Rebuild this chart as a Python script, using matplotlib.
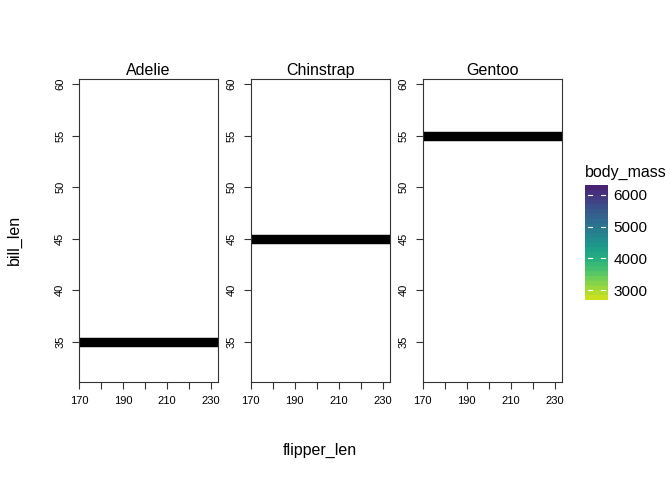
import numpy as np
import matplotlib
matplotlib.use("Agg")
import matplotlib.pyplot as plt
from matplotlib.colors import Normalize, ListedColormap

plt.rcParams['font.family'] = ['Liberation Sans', 'DejaVu Sans']

# data
species = ['Adelie', 'Chinstrap', 'Gentoo']
bill_len = [35, 45, 55]
flipper_range = [170, 233.2]
body_mass_range = [2700, 6300]
x_ticks = [170, 180, 190, 200, 210, 220, 230]
x_labels = ['170', '', '190', '', '210', '', '230']
y_ticks = [35, 40, 45, 50, 55, 60]
cbar_ticks = [3000, 4000, 5000, 6000]

fig = plt.figure(figsize=(6.72, 4.8), dpi=100)

lefts = [79, 250.7, 422.7]
W, H = 672, 480
for i, sp in enumerate(species):
    ax = fig.add_axes([lefts[i] / W, (H - 381.7) / H, 139 / W, (381.7 - 79) / H])
    ax.plot(flipper_range, [bill_len[i], bill_len[i]], color='black', linewidth=6.8,
            solid_capstyle='butt')
    ax.set_xlim(flipper_range)
    ax.set_ylim(31.1, 60.5)
    ax.set_xticks(x_ticks)
    ax.set_xticklabels(x_labels)
    ax.set_yticks(y_ticks)
    ax.set_yticklabels([str(t) for t in y_ticks], rotation=90, va='center')
    ax.tick_params(direction='out', length=5, width=0.8, labelsize=8, pad=5,
                   colors='#333333', labelcolor='black')
    for s in ax.spines.values():
        s.set_color('#333333')
        s.set_linewidth(0.8)
    ax.set_title(sp, fontsize=11.5, pad=3)

fig.text(320 / W, 1 - 450 / H, 'flipper_len', ha='center', va='center', fontsize=11.5)
fig.text(14 / W, 1 - 240 / H, 'bill_len', ha='center', va='center', fontsize=11.5,
         rotation=90)

# colour bar
cmap = ListedColormap(plt.get_cmap('viridis')(np.linspace(0.92, 0.1, 24)))
cax = fig.add_axes([585 / W, (H - 300) / H, 23 / W, 115 / H])
norm = Normalize(*body_mass_range)
grad = np.linspace(body_mass_range[0], body_mass_range[1], 256).reshape(-1, 1)
cax.imshow(grad, aspect='auto', origin='lower', cmap=cmap, norm=norm,
           extent=[0, 1, body_mass_range[0], body_mass_range[1]])
cax.set_xlim(0, 1)
cax.set_ylim(body_mass_range)
for t in cbar_ticks:
    cax.plot([0.12, 0.3], [t, t], color='white', linewidth=0.8)
    cax.plot([0.7, 0.88], [t, t], color='white', linewidth=0.8)
cax.set_xticks([])
cax.yaxis.tick_right()
cax.set_yticks(cbar_ticks)
cax.tick_params(axis='y', length=0, labelsize=11, pad=4)
for s in cax.spines.values():
    s.set_visible(False)
fig.text(585 / W, 1 - 172 / H, 'body_mass', ha='left', va='center', fontsize=11.5)

fig.savefig('out.png', dpi=100)
